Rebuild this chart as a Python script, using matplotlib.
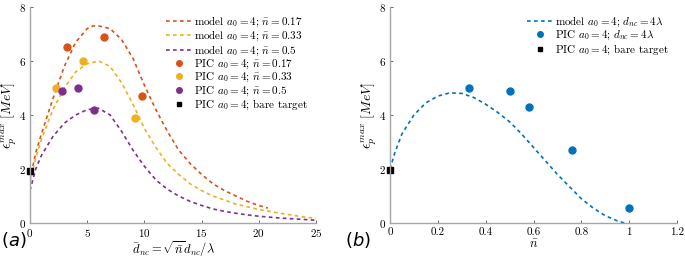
import numpy as np
import matplotlib
matplotlib.use('Agg')
from matplotlib import pyplot as plt

plt.rcParams['font.family'] = 'serif'
plt.rcParams['font.serif'] = ['cmr10']
plt.rcParams['mathtext.fontset'] = 'cm'
plt.rcParams['axes.formatter.use_mathtext'] = True

red = '#D95319'
yellow = '#EDB120'
purple = '#7E2F8E'
blue = '#0072BD'

# panel (a): model curves
d_017 = [0, 0.5, 1, 2, 3, 4, 5, 5.5, 6, 7, 8, 9, 10, 11, 12, 13, 14, 15, 16, 17, 18, 19, 20, 20.8]
e_017 = [1.6, 2.6, 3.3, 4.6, 5.8, 6.7, 7.2, 7.3, 7.3, 7.2, 6.8, 6.1, 5.1, 4.2, 3.4, 2.7, 2.2, 1.8, 1.45, 1.2, 1.0, 0.8, 0.65, 0.55]
d_033 = [0, 0.5, 1, 2, 3, 4, 5, 6, 7, 8, 9, 10, 11, 12, 13, 14, 15, 16, 17, 18, 19, 20, 22, 24, 25]
e_033 = [1.5, 2.4, 3.1, 4.2, 5.0, 5.6, 5.9, 6.0, 5.8, 5.2, 4.4, 3.5, 2.8, 2.2, 1.8, 1.45, 1.2, 1.0, 0.85, 0.7, 0.6, 0.5, 0.35, 0.22, 0.17]
d_05 = [0, 0.5, 1, 2, 3, 4, 5, 6, 7, 8, 9, 10, 11, 12, 13, 14, 15, 16, 17, 18, 19, 20, 22, 24, 25]
e_05 = [1.2, 2.0, 2.5, 3.2, 3.7, 4.0, 4.2, 4.25, 4.0, 3.4, 2.7, 2.1, 1.6, 1.25, 1.0, 0.8, 0.65, 0.52, 0.43, 0.36, 0.3, 0.25, 0.18, 0.13, 0.1]

# panel (a): PIC points
pic_d_017 = [3.2, 6.5, 9.8]
pic_e_017 = [6.5, 6.9, 4.7]
pic_d_033 = [2.3, 4.6, 9.2]
pic_e_033 = [5.0, 6.0, 3.9]
pic_d_05 = [2.8, 4.2, 5.6]
pic_e_05 = [4.9, 5.0, 4.2]
bare_d = [0.0]
bare_e = [1.92]

# panel (b): model curve and PIC points
n_model = [0, 0.02, 0.05, 0.1, 0.15, 0.2, 0.25, 0.3, 0.35, 0.4, 0.45, 0.5, 0.55, 0.6, 0.65, 0.7, 0.75, 0.8, 0.85, 0.9, 0.95, 0.98]
e_model = [2.0, 2.6, 3.3, 4.0, 4.45, 4.7, 4.82, 4.8, 4.65, 4.4, 4.1, 3.75, 3.3, 2.8, 2.3, 1.8, 1.35, 0.9, 0.55, 0.27, 0.08, 0.0]
pic_n = [0.33, 0.5, 0.58, 0.76, 1.0]
pic_e = [5.0, 4.9, 4.3, 2.7, 0.55]
bare_n = [0.0]
bare_eb = [1.95]

fig = plt.figure(figsize=(6.85, 2.6), dpi=100)
axa = fig.add_axes([30/685, 37/260, 286/685, 216/260])
axb = fig.add_axes([390/685, 37/260, 287/685, 216/260])

lw = 1.2
dash = (2.2, 2.0)
axa.plot(d_017, e_017, '--', color=red, lw=lw, dashes=dash,
         label=r'model $a_0=4;\,\bar{n}=0.17$')
axa.plot(d_033, e_033, '--', color=yellow, lw=lw, dashes=dash,
         label=r'model $a_0=4;\,\bar{n}=0.33$')
axa.plot(d_05, e_05, '--', color=purple, lw=lw, dashes=dash,
         label=r'model $a_0=4;\,\bar{n}=0.5$')
axa.plot(pic_d_017, pic_e_017, 'o', color=red, ms=5, ls='none',
         label=r'PIC $a_0=4;\,\bar{n}=0.17$')
axa.plot(pic_d_033, pic_e_033, 'o', color=yellow, ms=5, ls='none',
         label=r'PIC $a_0=4;\,\bar{n}=0.33$')
axa.plot(pic_d_05, pic_e_05, 'o', color=purple, ms=5, ls='none',
         label=r'PIC $a_0=4;\,\bar{n}=0.5$')
axa.plot(bare_d, bare_e, 's', color='black', ms=4, ls='none', clip_on=False,
         label=r'PIC $a_0=4$; bare target')

axb.plot(n_model, e_model, '--', color=blue, lw=lw, dashes=dash,
         label=r'model $a_0=4;\,d_{nc}=4\lambda$')
axb.plot(pic_n, pic_e, 'o', color=blue, ms=5, ls='none',
         label=r'PIC $a_0=4;\,d_{nc}=4\lambda$')
axb.plot(bare_n, bare_eb, 's', color='black', ms=4, ls='none', clip_on=False,
         label=r'PIC $a_0=4$; bare target')

for ax in (axa, axb):
    ax.set_ylim(0, 8)
    ax.set_yticks([0, 2, 4, 6, 8])
    for s in ('top', 'right'):
        ax.spines[s].set_visible(False)
    for s in ('left', 'bottom'):
        ax.spines[s].set_color('#a6a6a6')
        ax.spines[s].set_linewidth(1.0)
    ax.tick_params(direction='in', length=2.5, width=0.6, color='#555555',
                   labelsize=8, pad=3)
    ax.set_ylabel(r'$\epsilon_p^{max}\ [MeV]$', fontsize=10, labelpad=0)
    ax.legend(loc='upper right', frameon=False, fontsize=8, handlelength=2.4,
              handletextpad=0.2, labelspacing=0.0, borderaxespad=0.3,
              markerscale=0.8)

axa.set_xlim(0, 25)
axa.set_xticks([0, 5, 10, 15, 20, 25])
axa.set_xlabel(r'$\bar{d}_{nc}=\sqrt{\bar{n}}d_{nc}/\lambda$', fontsize=9, labelpad=0)
axb.set_xlim(0, 1.2)
axb.set_xticks([0, 0.2, 0.4, 0.6, 0.8, 1.0, 1.2])
axb.set_xticklabels(['0', '0.2', '0.4', '0.6', '0.8', '1', '1.2'])
axb.set_xlabel(r'$\bar{n}$', fontsize=9, labelpad=1)

fig.text(1/685, 20/260, r'$(a)$', fontsize=13, math_fontfamily='dejavusans', va='center')
fig.text(345/685, 20/260, r'$(b)$', fontsize=13, math_fontfamily='dejavusans', va='center')

fig.savefig('out.png', dpi=100)
